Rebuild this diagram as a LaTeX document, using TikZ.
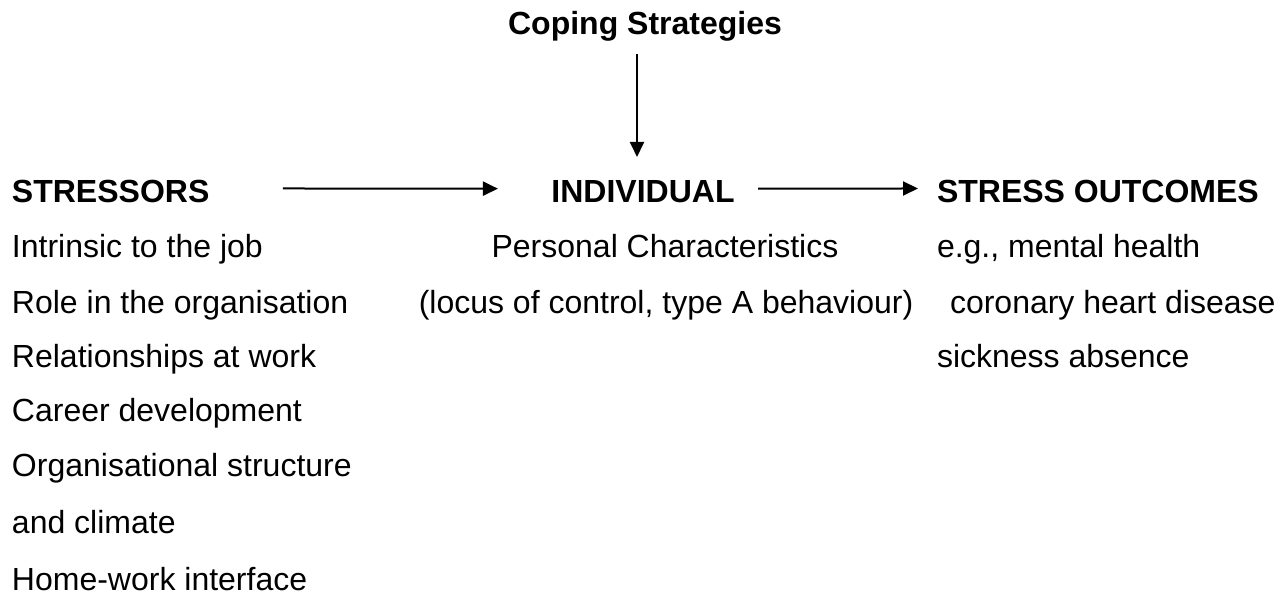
\documentclass[tikz,border=0pt]{standalone}
\usepackage{fontspec}
\setmainfont{Liberation Sans}
\usetikzlibrary{arrows.meta}
\tikzset{
  txt/.style={inner sep=0pt, outer sep=0pt, font=\fontsize{32}{38}\selectfont},
  head/.style={txt, font=\fontsize{32}{38}\selectfont\bfseries},
  arr/.style={line width=2pt, -{Triangle[length=15pt,width=14pt]}}
}
\begin{document}
\begin{tikzpicture}[x=1pt,y=-1pt]
\useasboundingbox (0,0) rectangle (1288,596);
% headings
\node[head, anchor=base] (cop) at (645,35) {Coping Strategies};
\node[head, anchor=base west] (str) at (12,203) {STRESSORS};
\node[head, anchor=base] (ind) at (643,203) {INDIVIDUAL};
\node[head, anchor=base west] (out) at (937,203) {STRESS OUTCOMES};
% stressors list
\node[txt, anchor=base west] (s1) at (12,258) {Intrinsic to the job};
\node[txt, anchor=base west] (s2) at (12,313) {Role in the organisation};
\node[txt, anchor=base west] (s3) at (12,367) {Relationships at work};
\node[txt, anchor=base west] (s4) at (12,421) {Career development};
\node[txt, anchor=base west] (s5) at (12,476) {Organisational structure};
\node[txt, anchor=base west] (s6) at (12,533) {and climate};
\node[txt, anchor=base west] (s7) at (12,590) {Home-work interface};
% individual
\node[txt, anchor=base] (i1) at (665,258) {Personal Characteristics};
\node[txt, anchor=base] (i2) at (666,313) {(locus of control, type A behaviour)};
% outcomes
\node[txt, anchor=base west] (o1) at (937,258) {e.g., mental health};
\node[txt, anchor=base west] (o2) at (950,313) {coronary heart disease};
\node[txt, anchor=base west] (o3) at (937,367) {sickness absence};
% arrows
\coordinate (vtop) at (637,54);
\draw[arr, shorten >=24pt] (vtop) -- (vtop |- ind.north);
\draw[arr] ([xshift=73.6pt,yshift=3.5pt]str.east) -- ([xshift=-53.5pt,yshift=3.5pt]ind.west);
\draw[arr] ([xshift=23.5pt,yshift=3.5pt]ind.east) -- ([xshift=-19pt,yshift=3.5pt]out.west);
\end{tikzpicture}
\end{document}
